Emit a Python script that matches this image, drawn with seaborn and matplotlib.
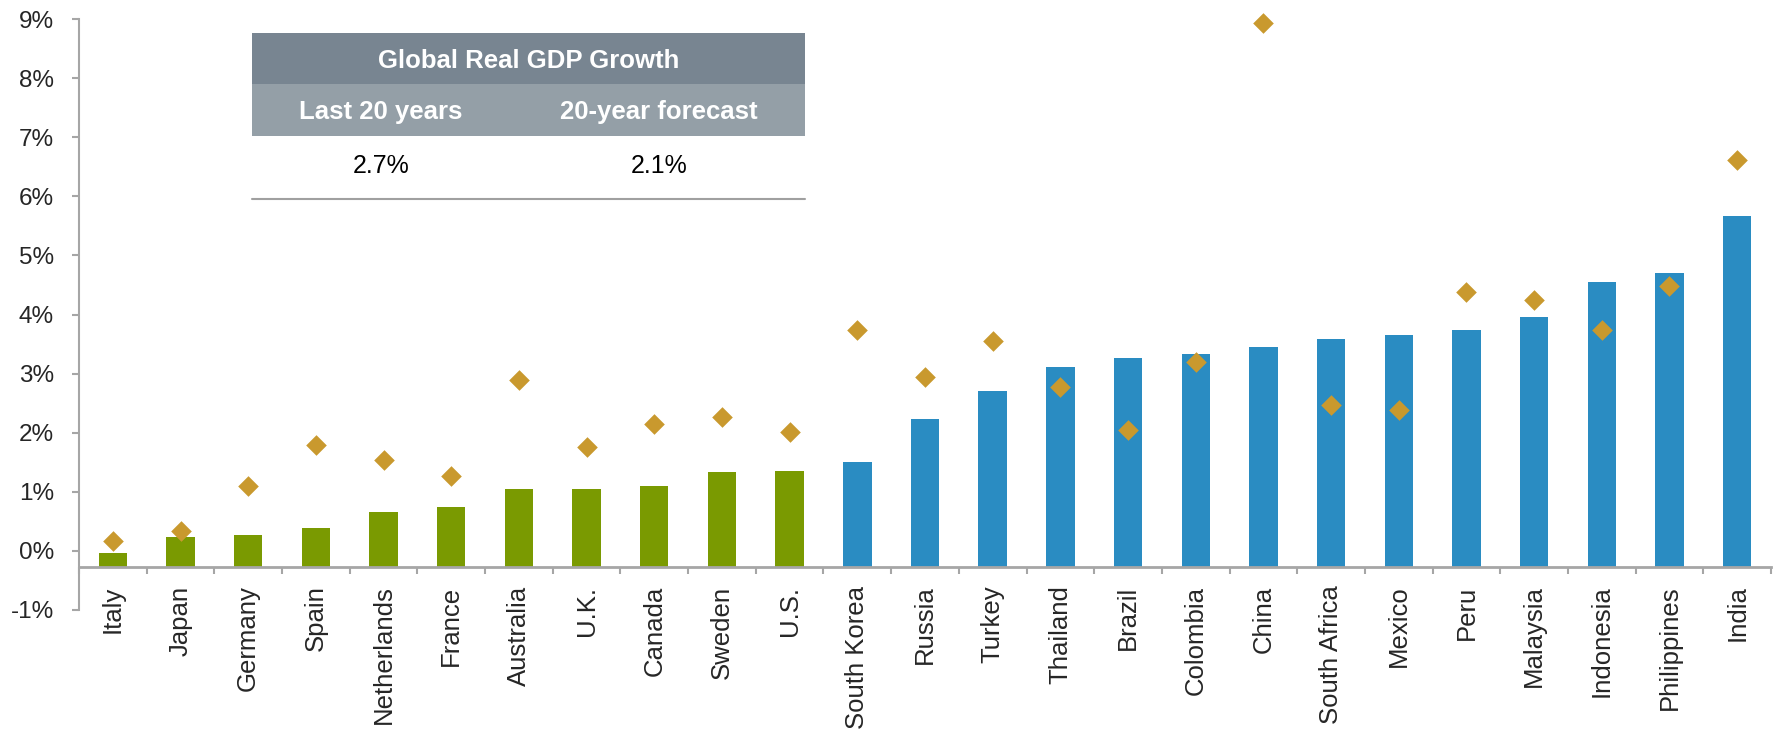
import numpy as np
import pandas as pd
import matplotlib
matplotlib.use("Agg")
import matplotlib.pyplot as plt
import seaborn as sns
from matplotlib.patches import Rectangle

# Real GDP growth by country (%)
countries = ['Italy', 'Japan', 'Germany', 'Spain', 'Netherlands', 'France', 'Australia',
             'U.K.', 'Canada', 'Sweden', 'U.S.', 'South Korea', 'Russia', 'Turkey',
             'Thailand', 'Brazil', 'Colombia', 'China', 'South Africa', 'Mexico', 'Peru',
             'Malaysia', 'Indonesia', 'Philippines', 'India']
groups = ['Developed'] * 11 + ['Emerging'] * 14
last_20_years = [-0.03, 0.23, 0.27, 0.38, 0.65, 0.75, 1.05, 1.05, 1.09, 1.34, 1.36,
                 1.51, 2.24, 2.70, 3.12, 3.26, 3.34, 3.45, 3.59, 3.65, 3.73,
                 3.95, 4.55, 4.71, 5.66]
forecast_20y = [0.17, 0.34, 1.09, 1.80, 1.53, 1.27, 2.89, 1.76, 2.15, 2.27, 2.01,
                3.73, 2.95, 3.55, 2.77, 2.04, 3.19, 8.93, 2.47, 2.38, 4.38,
                4.25, 3.73, 4.48, 6.61]

table_title = 'Global Real GDP Growth'
table_cols = ['Last 20 years', '20-year forecast']
table_vals = ['2.7%', '2.1%']

green = '#7a9a01'
blue = '#2a8cc2'
gold = '#c9992e'
axis_gray = '#a6a6a6'

sns.set_style('ticks')
plt.rcParams['font.family'] = ['Liberation Sans', 'DejaVu Sans']

df = pd.DataFrame({'country': countries, 'group': groups,
                   'hist': last_20_years, 'fcst': forecast_20y})

fig = plt.figure(figsize=(17.75, 7.34), dpi=100)
ax = fig.add_axes([79 / 1775, 1 - 610 / 734, 1692 / 1775, 591 / 734])

sns.barplot(data=df, x='country', y='hist', hue='group',
            palette={'Developed': green, 'Emerging': blue},
            width=0.42, dodge=False, saturation=1, legend=False, ax=ax)

# horizontal axis crosses below zero, bars start from it (Excel style)
base = -0.28
for p in ax.patches:
    top = p.get_y() + p.get_height()
    p.set_y(base)
    p.set_height(top - base)
    p.set_linewidth(0)

sns.stripplot(data=df, x='country', y='fcst', jitter=False, marker='D', size=10.5,
              color=gold, linewidth=0, zorder=3, clip_on=False, ax=ax)

ax.set_xlim(-0.5, 24.5)
ax.set_ylim(-1, 9)
ax.set_yticks(np.arange(-1, 10, 1))
ax.set_yticklabels([f'{v}%' for v in range(-1, 10)], fontsize=17.5)
ax.set_xlabel('')
ax.set_ylabel('')

sns.despine(ax=ax)
ax.spines['left'].set_color(axis_gray)
ax.spines['left'].set_linewidth(1.5)
ax.spines['bottom'].set_color(axis_gray)
ax.spines['bottom'].set_linewidth(2)
ax.spines['bottom'].set_position(('data', base))

ax.tick_params(axis='y', length=5, width=1.5, color=axis_gray, pad=13)
ax.set_xticks(np.arange(-0.5, 25, 1), minor=True)
ax.tick_params(axis='x', which='major', length=0, pad=13, labelsize=18.5, rotation=90)
ax.tick_params(axis='x', which='minor', length=5, width=1.5, color=axis_gray, direction='out')

# summary table in the upper left
tax = fig.add_axes([252 / 1775, 1 - 199 / 734, 553 / 1775, 166 / 734])
tax.set_xlim(0, 1)
tax.set_ylim(0, 1)
tax.axis('off')
tax.add_patch(Rectangle((0, 0.693), 1, 0.307, color='#788591', lw=0))
tax.add_patch(Rectangle((0, 0.380), 1, 0.313, color='#949fa7', lw=0))
tax.text(0.5, 0.83, table_title, ha='center', va='center', color='white',
         fontsize=18.5, fontweight='bold')
col_x = [0.233, 0.736]
for xc, col, val in zip(col_x, table_cols, table_vals):
    tax.text(xc, 0.525, col, ha='center', va='center', color='white',
             fontsize=18.5, fontweight='bold')
    tax.text(xc, 0.2, val, ha='center', va='center', color='black', fontsize=18)
tax.axhline(0, color='#a0a0a0', lw=1.5, clip_on=False)

fig.savefig('out.png', dpi=100)
